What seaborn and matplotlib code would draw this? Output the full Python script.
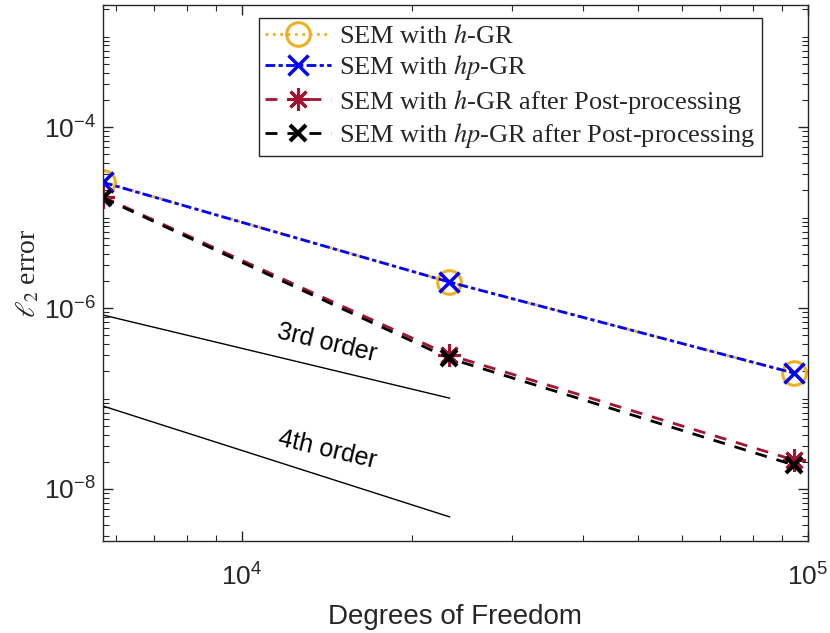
import numpy as np
import pandas as pd
import seaborn as sns
import matplotlib
matplotlib.use("Agg")
import matplotlib.pyplot as plt
from matplotlib.ticker import LogLocator, NullFormatter
from matplotlib.font_manager import FontProperties

# data
dof = [5680, 23230, 94470]
err_h = [2.47e-5, 1.94e-6, 1.91e-7]
err_hp = [2.45e-5, 1.94e-6, 1.91e-7]
err_h_post = [1.69e-5, 3.03e-7, 2.09e-8]
err_hp_post = [1.65e-5, 2.78e-7, 1.84e-8]

labels = ["SEM with $h$-GR", "SEM with $hp$-GR",
          "SEM with $h$-GR after Post-processing",
          "SEM with $hp$-GR after Post-processing"]

# reference slopes (error vs DOF)
ref_x = [5680, 23290]
ref3_start, ref3_slope = 8.37e-7, -1.5
ref4_start, ref4_slope = 8.26e-8, -2.0

sns.set_style("ticks")
plt.rcParams['font.family'] = ['Liberation Sans', 'DejaVu Sans']
plt.rcParams['axes.linewidth'] = 1.0
plt.rcParams['axes.edgecolor'] = '#262626'

df = pd.DataFrame({"dof": dof * 4,
                   "err": err_h + err_hp + err_h_post + err_hp_post,
                   "series": sum([[l] * 3 for l in labels], [])})

fig = plt.figure(figsize=(8.3, 6.33), dpi=100)
ax = fig.add_axes([0.124, 0.1453, 0.8494, 0.8467])

styles = {
    labels[0]: dict(color='#EDB120', linestyle=':', marker='o', markersize=17,
                    markerfacecolor='none', markeredgecolor='#EDB120',
                    markeredgewidth=2.2),
    labels[1]: dict(color='#0000FF', linestyle='-.', marker='x', markersize=14,
                    markeredgecolor='#0000FF', markeredgewidth=2.5),
    labels[2]: dict(color='#A2142F', linestyle='--', marker=(8, 2, 0), markersize=16,
                    markeredgecolor='#A2142F', markeredgewidth=2.2),
    labels[3]: dict(color='black', linestyle='--', marker='x', markersize=12,
                    markeredgecolor='black', markeredgewidth=3),
}

for lab in labels:
    sub = df[df.series == lab]
    sns.lineplot(data=sub, x="dof", y="err", ax=ax, label=lab, linewidth=2,
                 estimator=None, sort=False, **styles[lab])

lines = ax.get_lines()
lines[1].set_dashes((3.5, 1.2, 1.5, 1.2))
lines[2].set_dashes((4.3, 3.6))
lines[3].set_dashes((4.3, 3.6))

rx = np.array(ref_x, dtype=float)
ax.plot(rx, ref3_start * (rx / rx[0]) ** ref3_slope, color='black', lw=1)
ax.plot(rx, ref4_start * (rx / rx[0]) ** ref4_slope, color='black', lw=1)
ax.text(14130, 4.1e-7, "3rd order", rotation=-13.3, ha='center', va='center',
        rotation_mode='anchor', fontsize=18, color='black')
ax.text(14130, 2.7e-8, "4th order", rotation=-13.3, ha='center', va='center',
        rotation_mode='anchor', fontsize=18, color='black')

ax.set_xscale('log')
ax.set_yscale('log')
ax.set_xlim(5680, 1e5)
ax.set_ylim(2.66e-9, 2.23e-3)

ax.xaxis.set_major_locator(LogLocator(base=10))
ax.xaxis.set_minor_locator(LogLocator(base=10, subs=np.arange(2, 10)))
ax.yaxis.set_major_locator(LogLocator(base=100))
ax.yaxis.set_minor_locator(LogLocator(base=10, subs=np.arange(1, 10), numticks=20))
ax.xaxis.set_minor_formatter(NullFormatter())
ax.yaxis.set_minor_formatter(NullFormatter())

ax.tick_params(which='both', direction='in', top=True, right=True,
               colors='#262626', labelsize=19)
ax.tick_params(which='major', length=7, width=1)
ax.tick_params(which='minor', length=4, width=0.8)
ax.tick_params(axis='x', which='major', pad=16)
ax.tick_params(axis='y', which='major', pad=5)

ax.set_xlabel("Degrees of Freedom", fontsize=20, labelpad=10, color='#262626')
ylab_font = FontProperties(family='Liberation Serif', size=20, math_fontfamily='stix')
ax.set_ylabel(r"$\ell_2$ error", fontproperties=ylab_font, labelpad=2)

leg_font = FontProperties(family='Liberation Serif', size=19, math_fontfamily='stix')
leg = ax.legend(loc='upper right', bbox_to_anchor=(0.935, 0.976), prop=leg_font,
                frameon=True, fancybox=False, framealpha=1, edgecolor='#262626',
                handlelength=2.5, handletextpad=0.3, labelspacing=0.2,
                borderpad=0.25, borderaxespad=0)
leg.get_frame().set_linewidth(1.0)

fig.savefig("out.png", dpi=100)
